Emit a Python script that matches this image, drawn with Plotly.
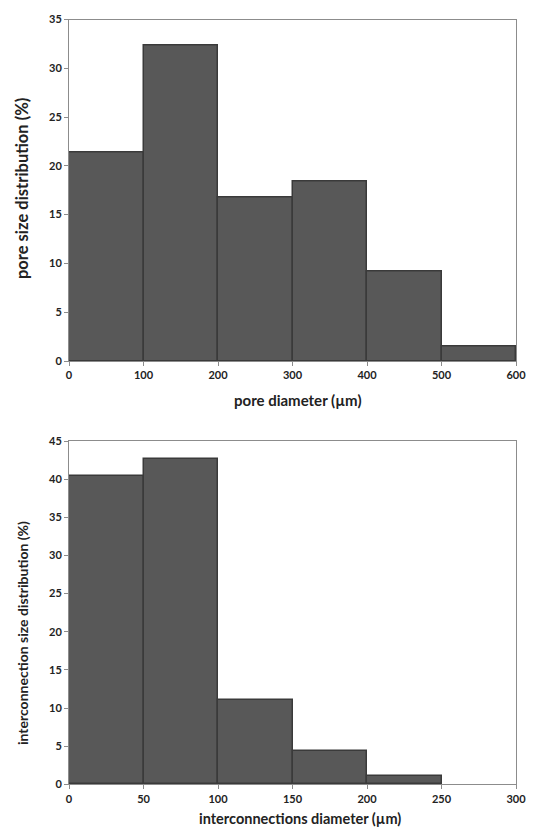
import plotly.graph_objects as go

# Top chart: pore size distribution
pore_bin_start = [0, 100, 200, 300, 400, 500]
pore_bin_width = 100
pore_values = [21.4, 32.3, 16.8, 18.35, 9.14, 1.46]

# Bottom chart: interconnection size distribution
inter_bin_start = [0, 50, 100, 150, 200]
inter_bin_width = 50
inter_values = [40.4, 42.7, 11.1, 4.4, 1.1]

pore_x_ticks = [0, 100, 200, 300, 400, 500, 600]
pore_y_ticks = [0, 5, 10, 15, 20, 25, 30, 35]
inter_x_ticks = [0, 50, 100, 150, 200, 250, 300]
inter_y_ticks = [0, 5, 10, 15, 20, 25, 30, 35, 40, 45]

FONT = "Lato"
BAR = "#585858"
EDGE = "#3a3a3a"

# The page body has an 8px margin, so the figure is sized to the visible area.
W, H, OFF = 527, 820, 8


def px_x(x):
    return (x - OFF) / W


def px_y(y):
    return (H - (y - OFF)) / H


fig = go.Figure()
fig.add_trace(go.Bar(x=pore_bin_start, y=pore_values, width=pore_bin_width, offset=0,
                     marker=dict(color=BAR, line=dict(color=EDGE, width=1.5)),
                     xaxis="x", yaxis="y", showlegend=False))
fig.add_trace(go.Bar(x=inter_bin_start, y=inter_values, width=inter_bin_width, offset=0,
                     marker=dict(color=BAR, line=dict(color=EDGE, width=1.5)),
                     xaxis="x2", yaxis="y2", showlegend=False))

axis_common = dict(showgrid=False, zeroline=False, showline=True, linecolor="#8c8c8c",
                   linewidth=1, mirror=True, ticks="outside", ticklen=4, tickcolor="#8c8c8c",
                   automargin=False, ticklabeloverflow="allow",
                   tickfont=dict(family=FONT, size=11, color="#222222", weight="bold"))

xdom = [px_x(69), px_x(516)]
fig.update_layout(
    width=W, height=H,
    margin=dict(l=0, r=0, t=0, b=0),
    paper_bgcolor="white", plot_bgcolor="white",
    bargap=0,
    font=dict(family=FONT, color="#222222"),
    xaxis=dict(axis_common, domain=xdom, range=[0, 600], tickvals=pore_x_ticks, anchor="y"),
    yaxis=dict(axis_common, domain=[px_y(361), px_y(19.5)], range=[0, 35],
               tickvals=pore_y_ticks, anchor="x"),
    xaxis2=dict(axis_common, domain=xdom, range=[0, 300], tickvals=inter_x_ticks, anchor="y2"),
    yaxis2=dict(axis_common, domain=[px_y(784.3), px_y(441)], range=[0, 45],
                tickvals=inter_y_ticks, anchor="x2"),
)

title_font = dict(family=FONT, color="#222222", weight="bold")
titles = [
    dict(text="pore diameter (µm)", x=px_x(298), y=px_y(400), textangle=0, size=15),
    dict(text="pore size distribution (%)", x=px_x(22), y=px_y(189), textangle=-90, size=16.5),
    dict(text="interconnections diameter (µm)", x=px_x(300), y=px_y(818), textangle=0, size=14.5),
    dict(text="interconnection size distribution (%)", x=px_x(22), y=px_y(633), textangle=-90, size=14),
]
for t in titles:
    fig.add_annotation(text=t["text"], x=t["x"], y=t["y"], xref="paper", yref="paper",
                       xanchor="center", yanchor="middle", showarrow=False,
                       textangle=t["textangle"], font=dict(title_font, size=t["size"]))

fig.write_html("out.html")
